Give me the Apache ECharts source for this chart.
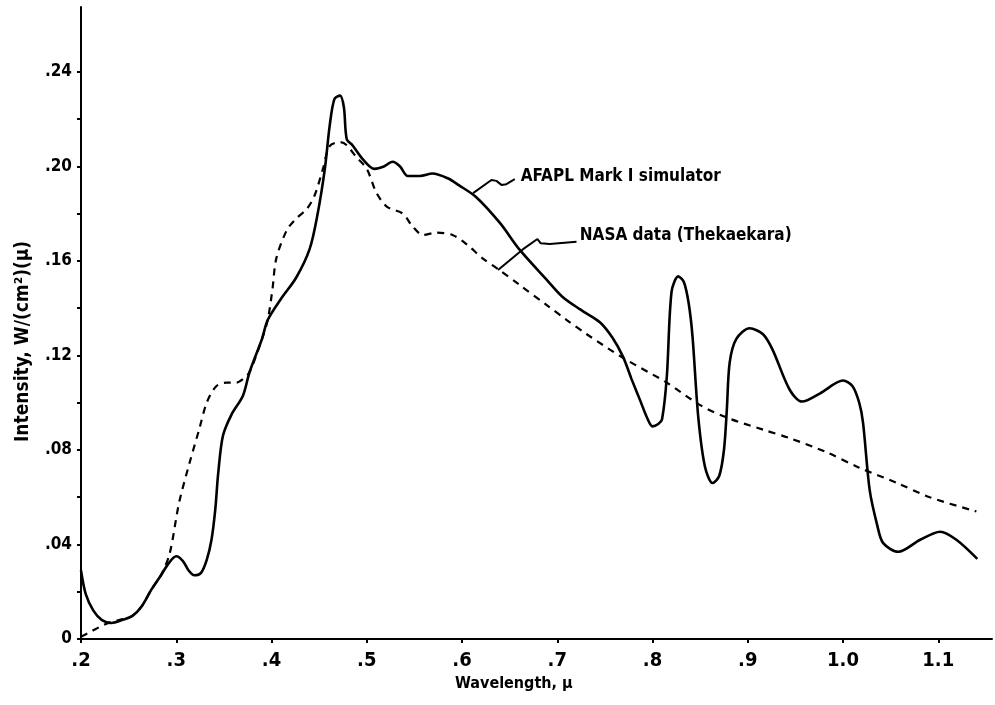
<!DOCTYPE html>
<html>
<head>
<meta charset="utf-8">
<script src="https://cdn.jsdelivr.net/npm/echarts@6/dist/echarts.min.js"></script>
<style>
html,body{margin:0;padding:0;background:#fff;}
#chart{width:995px;height:705px;}
</style>
</head>
<body>
<div id="chart"></div>
<script>
// ---- Data ----
const simWavelength = [0.200,0.205,0.213,0.222,0.232,0.243,0.254,0.264,0.274,0.284,0.292,0.300,0.307,0.313,0.319,0.326,0.332,0.337,0.341,0.344,0.349,0.358,0.370,0.377,0.390,0.396,0.410,0.426,0.440,0.448,0.456,0.461,0.466,0.472,0.476,0.479,0.485,0.496,0.508,0.518,0.527,0.535,0.543,0.556,0.569,0.585,0.597,0.615,0.640,0.660,0.689,0.705,0.724,0.745,0.758,0.769,0.778,0.787,0.795,0.800,0.806,0.810,0.815,0.820,0.827,0.833,0.838,0.842,0.848,0.855,0.863,0.870,0.875,0.878,0.881,0.888,0.902,0.916,0.926,0.944,0.957,0.976,1.000,1.010,1.017,1.021,1.028,1.036,1.042,1.058,1.081,1.102,1.119,1.141];
const simIntensity = [0.029,0.019,0.012,0.008,0.0068,0.0080,0.0098,0.014,0.021,0.027,0.032,0.035,0.033,0.029,0.027,0.028,0.0335,0.042,0.055,0.070,0.086,0.095,0.103,0.113,0.127,0.135,0.144,0.153,0.165,0.179,0.199,0.217,0.2285,0.230,0.225,0.2115,0.209,0.203,0.199,0.200,0.202,0.200,0.196,0.196,0.197,0.195,0.192,0.187,0.176,0.165,0.152,0.145,0.1395,0.134,0.1275,0.1195,0.110,0.101,0.093,0.090,0.091,0.093,0.111,0.147,0.1535,0.151,0.142,0.128,0.094,0.073,0.066,0.069,0.080,0.097,0.117,0.127,0.1315,0.129,0.1225,0.1055,0.1005,0.104,0.1094,0.107,0.100,0.0916,0.063,0.048,0.0407,0.0369,0.042,0.0454,0.042,0.0339];

const nasaWavelength = [0.200,0.210,0.219,0.230,0.240,0.254,0.264,0.274,0.284,0.293,0.303,0.314,0.324,0.332,0.342,0.353,0.363,0.370,0.377,0.390,0.396,0.401,0.405,0.416,0.426,0.437,0.445,0.454,0.461,0.472,0.479,0.489,0.500,0.510,0.521,0.538,0.548,0.559,0.573,0.590,0.605,0.622,0.638,0.660,0.690,0.710,0.731,0.769,0.815,0.850,0.878,0.916,0.944,0.983,1.017,1.057,1.091,1.140];
const nasaIntensity = [0.001,0.003,0.005,0.007,0.008,0.0098,0.014,0.021,0.027,0.036,0.0577,0.0746,0.0886,0.100,0.107,0.1085,0.1085,0.110,0.113,0.127,0.135,0.148,0.161,0.173,0.178,0.182,0.1875,0.199,0.2086,0.2103,0.209,0.204,0.199,0.189,0.183,0.180,0.1747,0.171,0.172,0.171,0.167,0.161,0.1565,0.150,0.141,0.135,0.129,0.119,0.1085,0.099,0.0937,0.0886,0.085,0.079,0.0725,0.066,0.060,0.054];

// tick labels
const xTickValues = [0.2,0.3,0.4,0.5,0.6,0.7,0.8,0.9,1.0,1.1];
const xTickLabels = ['.2','.3','.4','.5','.6','.7','.8','.9','1.0','1.1'];
const yLabelValues = [0,0.04,0.08,0.12,0.16,0.20,0.24];
const yTickLabels = ['0','.04','.08','.12','.16','.20','.24'];
const yTickValues = [0,0.02,0.04,0.06,0.08,0.10,0.12,0.14,0.16,0.18,0.20,0.22,0.24];

// annotations (data coordinates)
const simLabel = 'AFAPL Mark I simulator';
const simLabelAt = [0.6617, 0.1956];
const simLeaderX = [0.6116,0.6309,0.6361,0.6414,0.6466,0.6554];
const simLeaderY = [0.1887,0.1943,0.1939,0.1922,0.1925,0.1946];
const nasaLabel = 'NASA data (Thekaekara)';
const nasaLabelAt = [0.7236, 0.1706];
const nasaLeaderX = [0.6378,0.6641,0.6792,0.6827,0.6921,0.7202];
const nasaLeaderY = [0.1562,0.1650,0.1693,0.1675,0.1672,0.1681];

const xTitle = 'Wavelength, μ';
const yTitle = 'Intensity, W/(cm²)(μ)';

const zip = (a,b) => a.map((v,i)=>[v,b[i]]);
const FONT = "'Liberation Sans Narrow','DejaVu Sans Condensed','Liberation Sans',sans-serif";

const chart = echarts.init(document.getElementById('chart'), null, {renderer:'canvas'});
const fmtX = v => { const i = xTickValues.findIndex(t => Math.abs(t-v)<1e-6); return i>=0 ? xTickLabels[i] : ''; };
const fmtY = v => { const i = yLabelValues.findIndex(t => Math.abs(t-v)<1e-6); return i>=0 ? yTickLabels[i] : ''; };

chart.setOption({
  animation:false,
  backgroundColor:'#fff',
  grid:{left:81, top:7, right:3, bottom:66, containLabel:false},
  xAxis:{
    type:'value', min:0.2, max:1.1564,
    axisLine:{show:true, lineStyle:{color:'#000', width:2}},
    axisTick:{show:true, length:4, inside:false, customValues:xTickValues, lineStyle:{color:'#000', width:2}},
    axisLabel:{customValues:xTickValues, formatter:fmtX, color:'#000', fontFamily:FONT, fontWeight:'bold', fontSize:20, margin:12},
    splitLine:{show:false}
  },
  yAxis:{
    type:'value', min:0, max:0.2675,
    axisLine:{show:true, lineStyle:{color:'#000', width:2}},
    axisTick:{show:true, length:4, customValues:yTickValues, lineStyle:{color:'#000', width:2}},
    axisLabel:{customValues:yLabelValues, formatter:fmtY, color:'#000', fontFamily:FONT, fontWeight:'bold', fontSize:17, margin:9},
    splitLine:{show:false}
  },
  graphic:[
    {type:'text', left:455, top:676, style:{text:xTitle, fill:'#000', font:"bold 16px 'Liberation Sans Narrow','DejaVu Sans Condensed',sans-serif"}},
    {type:'text', x:14, y:442, rotation:Math.PI/2, style:{text:yTitle, fill:'#000', font:"bold 19px 'Liberation Sans Narrow','DejaVu Sans Condensed',sans-serif", textVerticalAlign:'top'}}
  ],
  series:[
    {name:'NASA data (Thekaekara)', type:'line', data:zip(nasaWavelength,nasaIntensity), showSymbol:false, smooth:0.3,
     lineStyle:{color:'#000', width:2.2, type:[7,6]}, z:2},
    {name:'AFAPL Mark I simulator', type:'line', data:zip(simWavelength,simIntensity), showSymbol:false, smooth:0.3,
     lineStyle:{color:'#000', width:2.6}, z:3},
    {type:'line', data:zip(simLeaderX,simLeaderY), showSymbol:false, lineStyle:{color:'#000', width:2}, silent:true},
    {type:'line', data:zip(nasaLeaderX,nasaLeaderY), showSymbol:false, lineStyle:{color:'#000', width:2}, silent:true},
    {type:'scatter', data:[simLabelAt], symbolSize:0, silent:true, itemStyle:{opacity:1, color:'#000'},
     label:{show:true, position:'right', distance:0, formatter:simLabel, color:'#000', opacity:1, fontFamily:FONT, fontWeight:'bold', fontSize:17}},
    {type:'scatter', data:[nasaLabelAt], symbolSize:0, silent:true, itemStyle:{opacity:1, color:'#000'},
     label:{show:true, position:'right', distance:0, formatter:nasaLabel, color:'#000', opacity:1, fontFamily:FONT, fontWeight:'bold', fontSize:17}}
  ]
});
</script>
</body>
</html>
